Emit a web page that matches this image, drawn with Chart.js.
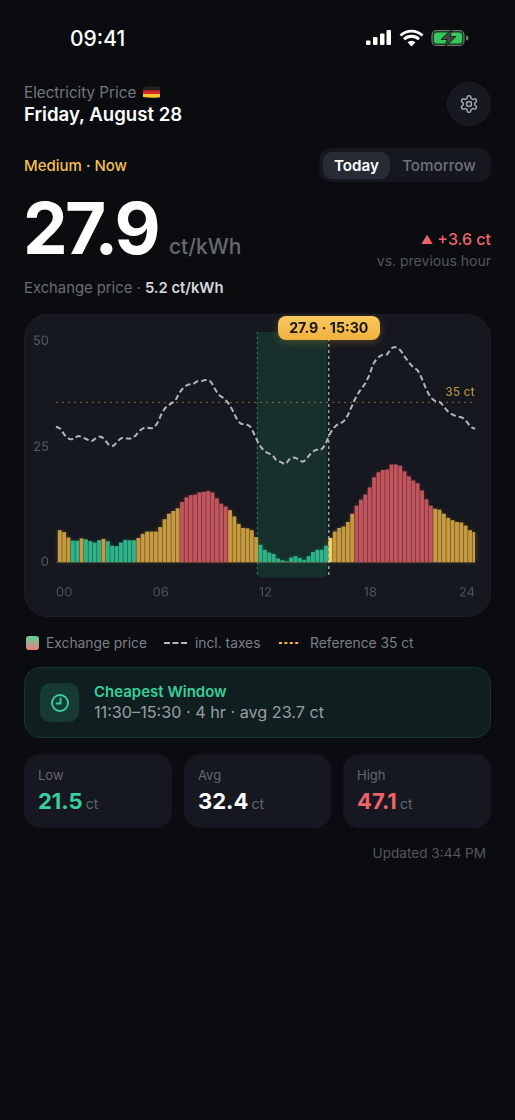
<!DOCTYPE html>
<html><head><meta charset="utf-8">
<script src="https://cdn.jsdelivr.net/npm/chart.js@4"></script>
<style>
*{box-sizing:border-box;margin:0;padding:0}
html,body{width:515px;height:1120px;background:#0a0c10;overflow:hidden;font-family:Inter,"Noto Sans",sans-serif}
#app{position:relative;width:515px;height:1120px}
.t{position:absolute;white-space:nowrap;line-height:24px;height:24px}
.r{text-align:right}
.box{position:absolute}
canvas{position:absolute;left:24px;top:314px}
</style></head><body><div id="app">
<div class="t" style="left:70px;top:27px;font-size:21px;font-weight:500;color:#fff">09:41</div>
<svg class="box" style="left:362px;top:26px" width="108" height="24" viewBox="0 0 108 24">
 <rect x="4" y="14.5" width="4.5" height="4.5" rx="1" fill="#fff"/><rect x="11" y="11" width="4.5" height="8" rx="1" fill="#fff"/><rect x="18" y="7.5" width="4.5" height="11.5" rx="1" fill="#fff"/><rect x="24.5" y="4" width="4.5" height="15" rx="1" fill="#fff"/>
 <path d="M38.5 9.5a16 16 0 0 1 22 0M42 13.2a11 11 0 0 1 15 0" fill="none" stroke="#fff" stroke-width="2.8"/><path d="M45.5 16.2a6 6 0 0 1 8 0L49.5 20.5z" fill="#fff"/>
 <rect x="70" y="4.5" width="32" height="15" rx="4.5" fill="#1f3a28" stroke="#6f7a72" stroke-width="1.2"/><rect x="72" y="6.5" width="28" height="11" rx="3" fill="#34c759"/><path d="M104 9.5v5a2.5 2.5 0 0 0 0-5z" fill="#6f7a72"/>
 <path d="M90 3 79 13.5h6L83 21l11-10.5h-6z" fill="#3d4a40" stroke="#0a0c10" stroke-width=".8"/>
</svg>

<div class="t" style="left:24px;top:81px;font-size:15.2px;color:#74777f">Electricity Price</div>
<svg class="box" style="left:143px;top:86px" width="17" height="12" viewBox="0 0 17 12"><path d="M0 1.5Q8 -.5 17 1v3.5H0z" fill="#222"/><rect y="4.4" width="17" height="3.6" fill="#d62a2a"/><path d="M0 8h17v3.2Q8 12.5 0 11z" fill="#f4c430"/></svg>
<div class="t" style="left:24px;top:102px;font-size:18.6px;font-weight:600;color:#fff">Friday, August 28</div>
<div class="box" style="left:447px;top:82px;width:44px;height:44px;border-radius:50%;background:#15181e;border:1px solid #1d2027"></div>
<svg class="box" style="left:459px;top:94px" width="20" height="20" viewBox="0 0 24 24" fill="none" stroke="#a3a6ac" stroke-width="1.8" stroke-linecap="round" stroke-linejoin="round"><path d="M12.22 2h-.44a2 2 0 0 0-2 2v.18a2 2 0 0 1-1 1.73l-.43.25a2 2 0 0 1-2 0l-.15-.08a2 2 0 0 0-2.73.73l-.22.38a2 2 0 0 0 .73 2.73l.15.1a2 2 0 0 1 1 1.72v.51a2 2 0 0 1-1 1.74l-.15.09a2 2 0 0 0-.73 2.73l.22.38a2 2 0 0 0 2.73.73l.15-.08a2 2 0 0 1 2 0l.43.25a2 2 0 0 1 1 1.73V20a2 2 0 0 0 2 2h.44a2 2 0 0 0 2-2v-.18a2 2 0 0 1 1-1.73l.43-.25a2 2 0 0 1 2 0l.15.08a2 2 0 0 0 2.73-.73l.22-.39a2 2 0 0 0-.73-2.73l-.15-.08a2 2 0 0 1-1-1.74v-.5a2 2 0 0 1 1-1.74l.15-.09a2 2 0 0 0 .73-2.73l-.22-.38a2 2 0 0 0-2.73-.73l-.15.08a2 2 0 0 1-2 0l-.43-.25a2 2 0 0 1-1-1.73V4a2 2 0 0 0-2-2z"/><circle cx="12" cy="12" r="3"/></svg>

<div class="t" style="left:24px;top:153.5px;font-size:15px;font-weight:500;color:#f3bf55">Medium · Now</div>
<div class="box" style="left:319px;top:148px;width:172px;height:34px;border-radius:12px;background:#14171d"></div>
<div class="box" style="left:323px;top:152px;width:67px;height:27px;border-radius:9px;background:#272b35"></div>
<div class="t" style="left:323px;width:67px;top:154px;text-align:center;font-size:15.2px;font-weight:600;color:#fff">Today</div>
<div class="t" style="left:390px;width:98px;top:154px;text-align:center;font-size:15.2px;font-weight:500;color:#6f7279">Tomorrow</div>

<div class="t" style="left:23px;top:188px;height:80px;line-height:80px;font-size:71px;font-weight:700;letter-spacing:-2.8px;color:#fff">27.9</div>
<div class="t" style="left:169px;top:235px;font-size:21px;font-weight:500;color:#666970">ct/kWh</div>
<div class="t r" style="right:24px;top:227px;font-size:16px;font-weight:500;color:#ec6468"><span style="font-size:12px;position:relative;top:-1px">▲</span> +3.6 ct</div>
<div class="t r" style="right:24px;top:249px;font-size:14px;color:#54575e">vs. previous hour</div>
<div class="t" style="left:24px;top:276px;font-size:14.8px;color:#6a6d74">Exchange price · <span style="color:#d8d9dc;font-weight:600">5.2 ct/kWh</span></div>

<div class="box" style="left:24px;top:314px;width:467px;height:303px;border-radius:24px;background:#15181f;border:1px solid #1c1f26"></div>
<canvas id="chart" style="width:467px;height:303px"></canvas>
<div class="t" id="pill" style="top:316px;height:24px;width:102px;text-align:center;border-radius:8px;background:linear-gradient(#f8c95f,#f0b03e);font-size:14.2px;font-weight:700;color:#1a1610;box-shadow:0 2px 8px rgba(240,176,62,.25)">27.9 · 15:30</div>
<div class="t r" id="refLabel" style="top:380px;font-size:11.5px;font-weight:500;color:#b8923f;letter-spacing:.3px">35 ct</div>

<div class="box" style="left:26px;top:636px;width:13px;height:14px;border-radius:3px;background:linear-gradient(#5fcf9f,#f0807a)"></div>
<div class="t" style="left:46px;top:631px;font-size:13.8px;color:#7c7f86">Exchange price</div>
<svg class="box" style="left:164px;top:638px" width="24" height="10"><line x1="0" y1="5" x2="23" y2="5" stroke="#b4b7bc" stroke-width="2" stroke-dasharray="6 2.5"/></svg>
<div class="t" style="left:195px;top:631px;font-size:13.8px;color:#7c7f86">incl. taxes</div>
<svg class="box" style="left:279px;top:638px" width="22" height="10"><line x1="0" y1="5" x2="21" y2="5" stroke="#f2b84b" stroke-width="2" stroke-dasharray="3 2.4"/></svg>
<div class="t" style="left:310px;top:631px;font-size:13.8px;color:#7c7f86">Reference 35 ct</div>

<div class="box" style="left:24px;top:667px;width:467px;height:71px;border-radius:16px;background:#0f1f1f;border:1px solid #17332f"></div>
<div class="box" style="left:40px;top:683px;width:39px;height:39px;border-radius:10px;background:#173a33"></div>
<svg class="box" style="left:50px;top:693px" width="20" height="20" viewBox="0 0 20 20" fill="none" stroke="#36cf9d" stroke-width="1.9" stroke-linecap="round"><circle cx="10" cy="10" r="8"/><path d="M10.5 5.5V10.5H6.5"/></svg>
<div class="t" style="left:94px;top:680px;font-size:15px;font-weight:600;color:#36cf9d">Cheapest Window</div>
<div class="t" style="left:94px;top:700px;font-size:16.2px;color:#9a9da3">11:30–15:30 · 4 hr · avg 23.7 ct</div>

<div class="box" style="left:24px;top:754px;width:148px;height:74px;border-radius:16px;background:#151820"></div>
<div class="box" style="left:184px;top:754px;width:147px;height:74px;border-radius:16px;background:#151820"></div>
<div class="box" style="left:343px;top:754px;width:148px;height:74px;border-radius:16px;background:#151820"></div>
<div class="t" style="left:38px;top:763px;font-size:13px;color:#63666d">Low</div>
<div class="t" style="left:198px;top:763px;font-size:13px;color:#63666d">Avg</div>
<div class="t" style="left:357px;top:763px;font-size:13px;color:#63666d">High</div>
<div class="t" style="left:38px;top:789px;font-size:22px;font-weight:700;color:#36cf9d">21.5 <span style="font-size:14px;font-weight:400;color:#63666d;margin-left:-2px">ct</span></div>
<div class="t" style="left:198px;top:789px;font-size:22px;font-weight:700;color:#fff">32.4 <span style="font-size:14px;font-weight:400;color:#63666d;margin-left:-2px">ct</span></div>
<div class="t" style="left:357px;top:789px;font-size:22px;font-weight:700;color:#ec6468">47.1 <span style="font-size:14px;font-weight:400;color:#63666d;margin-left:-2px">ct</span></div>
<div class="t r" style="right:29px;top:841px;font-size:13.6px;color:#54575e">Updated 3:44 PM</div>
</div>
<script>
const exchangePrice=[6.9,6.5,5.3,4.6,4.6,5.1,4.9,4.5,4.2,4.7,5.0,4.5,3.5,3.4,4.2,4.8,4.7,4.7,5.2,6.1,6.6,6.6,6.6,7.6,9.3,10.5,11.1,11.7,13.1,14.1,14.6,14.7,15.2,15.3,15.5,15.2,13.9,12.7,12.1,11.3,9.9,8.3,7.4,7.3,6.9,5.4,
3.7,2.6,2.0,1.7,0.7,0.3,0.1,0.9,1.2,0.8,0.4,1.2,2.1,2.6,2.6,3.5,5.2,
6.6,7.4,7.7,8.7,10.5,12.3,13.6,14.7,16.3,18.5,19.6,20.1,20.2,21.3,21.3,21.0,19.8,18.7,17.8,17.2,15.6,13.7,12.3,11.6,11.4,10.5,9.6,9.1,8.7,8.6,7.9,6.9,6.5];
const inclTaxes=[29.7,29.2,27.8,27.0,27.0,27.6,27.3,26.9,26.5,27.1,27.5,26.9,25.7,25.5,26.5,27.2,27.1,27.1,27.7,28.8,29.4,29.4,29.4,30.5,32.6,34.0,34.7,35.4,37.1,38.3,38.9,39.0,39.6,39.7,39.9,39.6,38.0,36.6,35.9,34.9,33.3,31.4,30.3,30.2,29.7,27.9,
25.9,24.6,23.9,23.5,22.3,21.9,21.5,22.6,22.9,22.5,22.0,22.9,24.0,24.6,24.6,25.7,27.9,
29.4,30.3,30.7,31.9,34.0,36.1,37.7,39.0,40.9,43.5,44.8,45.4,45.5,46.8,47.1,46.5,45.1,43.8,42.7,42.0,40.1,37.8,36.1,35.3,35.1,34.0,32.9,32.3,31.9,31.7,30.9,29.7,29.2];
const priceLevel=('aaa'+'gg'+'a'+'gggg'+'a'+'ggggggg'+'aaaaaaaaaa'+'rrrrrrrrrrr'+'aaaaaaa'+'gggggggggggggggg'+'c'+'aaaaa'+'rrrrrrrrrrrrrrrrrr'+'aaaaaaaaaa').split('');
const referencePrice=exchangePrice.map(()=>35);
const slots=exchangePrice.map((_,i)=>String(Math.floor(i/4)).padStart(2,'0')+':'+String(i%4*15).padStart(2,'0'));
const yTickLabels=['0','25','50'];
const yTickValues=[0,25.2,48.4]; // the reference prints its y labels slightly off the true 0/25/50 heights
const windowStart=46, currentSlot=62;
const levelColor={a:'#c79a40',g:'#2fb48a',r:'#c2545c',c:'#f8d060'};

const decor={id:'decor',
 beforeDatasetsDraw(c){
  const {ctx,scales:{x,y}}=c, step=x.getPixelForValue(1)-x.getPixelForValue(0);
  const L=x.getPixelForValue(windowStart)-step/2, R=x.getPixelForValue(currentSlot);
  const T=y.getPixelForValue(50)-2, B=y.getPixelForValue(0)+15.5;
  ctx.save();
  ctx.fillStyle='#17302c';ctx.beginPath();ctx.roundRect(L,T,R-1.5-L,B-T,[0,0,4,4]);ctx.fill();
  ctx.strokeStyle='#c9a261';ctx.globalAlpha=.32;ctx.lineWidth=1;
  ctx.beginPath();ctx.moveTo(c.chartArea.left,y.getPixelForValue(0)+.5);ctx.lineTo(c.chartArea.right,y.getPixelForValue(0)+.5);ctx.stroke();
  ctx.restore();
 },
 beforeDatasetDraw(c,a){
  if(a.meta.type!=='bar')return;
  const ctx=c.ctx;ctx.save();ctx.filter='blur(4px)';ctx.globalAlpha=.3;
  a.meta.data.forEach(e=>e.draw(ctx));ctx.restore();
 },
 afterDatasetsDraw(c){
  const {ctx,scales:{x,y}}=c, step=x.getPixelForValue(1)-x.getPixelForValue(0);
  const L=x.getPixelForValue(windowStart)-step/2, R=x.getPixelForValue(currentSlot);
  const T=y.getPixelForValue(50)-2, B=y.getPixelForValue(0)+13;
  ctx.save();ctx.lineWidth=1;
  ctx.setLineDash([2,3]);ctx.strokeStyle='rgba(54,207,157,.55)';
  ctx.beginPath();ctx.moveTo(L+.5,T);ctx.lineTo(L+.5,B);ctx.stroke();
  ctx.setLineDash([3,3]);ctx.lineWidth=1.3;ctx.strokeStyle='rgba(220,224,228,.75)';
  ctx.beginPath();ctx.moveTo(R,T);ctx.lineTo(R,B);ctx.stroke();
  ctx.restore();
 }};

const chart=new Chart(document.getElementById('chart'),{
 data:{labels:slots,datasets:[
  {type:'line',label:'incl. taxes',data:inclTaxes,xAxisID:'xLine',borderColor:'#b4b7bc',borderWidth:2,borderDash:[5.5,3],pointRadius:0,tension:.35,fill:false},
  {type:'line',label:'Reference 35 ct',data:referencePrice,xAxisID:'xLine',borderColor:'rgba(242,184,75,.5)',borderWidth:1,borderDash:[2,4],pointRadius:0,fill:false},
  {type:'bar',label:'Exchange price',data:exchangePrice,xAxisID:'x',backgroundColor:priceLevel.map(l=>levelColor[l]),barThickness:3.2,borderWidth:0}
 ]},
 options:{responsive:false,animation:false,events:[],devicePixelRatio:2,
  layout:{padding:{top:20,right:16,left:0,bottom:0}},
  plugins:{legend:{display:false},tooltip:{enabled:false}},
  scales:{
   x:{type:'category',display:false,offset:true},
   xLine:{type:'category',display:false,offset:false},
   h:{type:'linear',position:'bottom',min:0,max:24,
      grid:{display:false,drawTicks:false},border:{display:false},
      afterFit(s){s.height=55;s.paddingLeft=0;s.paddingRight=0;},
      ticks:{stepSize:6,align:'inner',maxRotation:0,padding:23,color:'#4f525a',font:{family:'Inter',size:13},callback:v=>String(v).padStart(2,'0')}},
   y:{type:'linear',position:'left',min:0,max:50,
      grid:{display:false,drawTicks:false},border:{display:false},
      afterFit(s){s.width=32;s.paddingTop=0;s.paddingBottom=0;},
      afterBuildTicks(s){s.ticks=yTickValues.map(v=>({value:v}));},
      ticks:{padding:7,color:'#565960',font:{family:'Inter',size:13},callback:(v,i)=>yTickLabels[i]}}
  }},
 plugins:[decor]
});
const cv=24, px=chart.scales.x.getPixelForValue(currentSlot)+cv;
const pill=document.getElementById('pill');pill.style.left=(px-51)+'px';
const rl=document.getElementById('refLabel');rl.style.right=(515-cv-chart.chartArea.right)+'px';
</script></body></html>
